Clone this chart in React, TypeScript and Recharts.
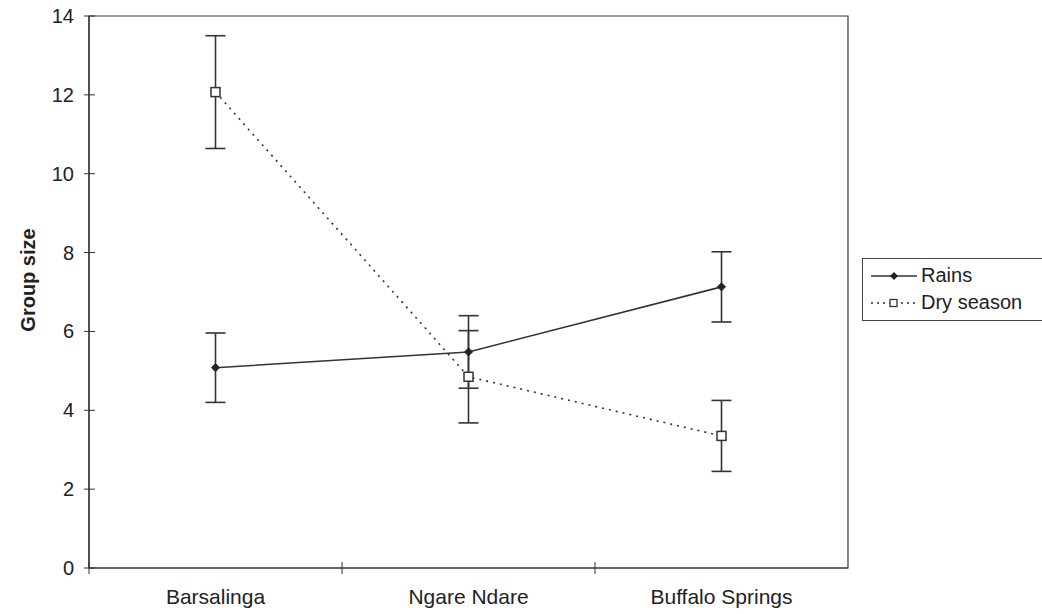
import React from "react";
import {
  LineChart,
  Line,
  XAxis,
  YAxis,
  ErrorBar,
  Label,
  ReferenceArea,
} from "recharts";

const sites = ["Barsalinga", "Ngare Ndare", "Buffalo Springs"];
const rainsMean = [5.08, 5.48, 7.13];
const rainsErr = [0.88, 0.92, 0.89];
const dryMean = [12.07, 4.85, 3.35];
const dryErr = [1.43, 1.17, 0.9];
const yTicks = [0, 2, 4, 6, 8, 10, 12, 14];

const data = sites.map((site, i) => ({
  site,
  rains: rainsMean[i],
  rainsErr: rainsErr[i],
  dry: dryMean[i],
  dryErr: dryErr[i],
}));

const INK = "#333";
const FONT = "'Liberation Sans', Arial, sans-serif";

// category label plus a small tick on the left boundary of each band
const SiteTick = (props: any) => {
  const { x, y, payload } = props;
  const edge = x - (payload.offset || 0);
  return (
    <g>
      <line x1={edge} x2={edge} y1={y - 6} y2={y + 6} stroke={INK} strokeWidth={1} />
      <text x={x} y={y + 36} textAnchor="middle" fill="#222" fontSize={21} fontFamily={FONT}>
        {payload.value}
      </text>
    </g>
  );
};

const ValueTick = (props: any) => {
  const { x, y, payload } = props;
  return (
    <g>
      <line x1={x - 5} x2={x + 6} y1={y} y2={y} stroke={INK} strokeWidth={1} />
      <text x={x - 15} y={y + 7} textAnchor="end" fill="#222" fontSize={20} fontFamily={FONT}>
        {payload.value}
      </text>
    </g>
  );
};

const RainsDot = (props: any) => {
  const { cx, cy, index } = props;
  return (
    <path
      key={`r-${index}`}
      d={`M${cx},${cy - 4} L${cx + 4},${cy} L${cx},${cy + 4} L${cx - 4},${cy} Z`}
      fill="#222"
      stroke="#222"
    />
  );
};

const DryDot = (props: any) => {
  const { cx, cy, index } = props;
  return (
    <rect
      key={`d-${index}`}
      x={cx - 4.5}
      y={cy - 4.5}
      width={9}
      height={9}
      fill="#fff"
      stroke={INK}
      strokeWidth={1.5}
    />
  );
};

const LegendBox = () => (
  <div
    style={{
      position: "absolute",
      left: 862,
      top: 258,
      width: 182,
      boxSizing: "border-box",
      border: "1px solid #444",
      background: "#fff",
      padding: "3px 6px 4px 6px",
      fontFamily: FONT,
      fontSize: 20,
      color: "#222",
      lineHeight: "27px",
    }}
  >
    <div style={{ display: "flex", alignItems: "center" }}>
      <svg width={50} height={14}>
        <line x1={2} x2={48} y1={7} y2={7} stroke={INK} strokeWidth={1.5} />
        <path d="M25,3 L29,7 L25,11 L21,7 Z" fill="#222" />
      </svg>
      <span style={{ marginLeft: 2 }}>Rains</span>
    </div>
    <div style={{ display: "flex", alignItems: "center" }}>
      <svg width={50} height={14}>
        <line x1={2} x2={48} y1={7} y2={7} stroke={INK} strokeWidth={1.5} strokeDasharray="2 4" />
        <rect x={21} y={3.5} width={7} height={7} fill="#fff" stroke={INK} strokeWidth={1.3} />
      </svg>
      <span style={{ marginLeft: 2 }}>Dry season</span>
    </div>
  </div>
);

export default function App() {
  return (
    <div style={{ position: "absolute", left: 0, top: 0, width: 1042, height: 614, background: "#fff" }}>
      <LineChart
        width={1042}
        height={614}
        data={data}
        margin={{ top: 16, right: 194, bottom: 0, left: 0 }}
      >
        <ReferenceArea y1={0} y2={14} fill="none" stroke={INK} strokeWidth={1.2} />
        <XAxis
          dataKey="site"
          scale="band"
          height={46}
          tickSize={0}
          tickMargin={0}
          tick={<SiteTick />}
          axisLine={{ stroke: INK, strokeWidth: 1.2 }}
          tickLine={false}
          interval={0}
        />
        <YAxis
          width={89}
          domain={[0, 14]}
          ticks={yTicks}
          tickSize={0}
          tickMargin={0}
          tick={<ValueTick />}
          axisLine={{ stroke: INK, strokeWidth: 1.2 }}
          tickLine={false}
        >
          <Label
            content={({ viewBox }: any) => {
              const cx = viewBox.x + 28;
              const cy = viewBox.y + viewBox.height / 2 - 12;
              return (
                <text
                  x={cx}
                  y={cy}
                  transform={`rotate(-90, ${cx}, ${cy})`}
                  textAnchor="middle"
                  dominantBaseline="central"
                  fontFamily={FONT}
                  fontSize={20}
                  fontWeight="bold"
                  fill="#222"
                >
                  Group size
                </text>
              );
            }}
          />
        </YAxis>
        <Line
          dataKey="rains"
          name="Rains"
          stroke={INK}
          strokeWidth={1.6}
          dot={<RainsDot />}
          activeDot={false}
          isAnimationActive={false}
        >
          <ErrorBar dataKey="rainsErr" direction="y" width={10} stroke={INK} strokeWidth={1.6} />
        </Line>
        <Line
          dataKey="dry"
          name="Dry season"
          stroke={INK}
          strokeWidth={1.6}
          strokeDasharray="2 5"
          dot={<DryDot />}
          activeDot={false}
          isAnimationActive={false}
        >
          <ErrorBar dataKey="dryErr" direction="y" width={10} stroke={INK} strokeWidth={1.6} />
        </Line>
      </LineChart>
      <LegendBox />
    </div>
  );
}
